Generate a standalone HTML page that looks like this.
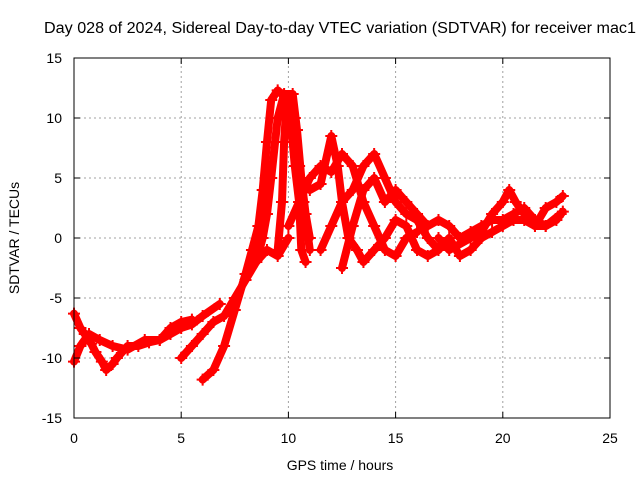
<!DOCTYPE html>
<html><head><meta charset="utf-8"><style>
body{margin:0;background:#fff;width:640px;height:480px;overflow:hidden}
text{font-family:"Liberation Sans",sans-serif;fill:#000}
</style></head><body>
<svg id="chart" width="640" height="480" xmlns="http://www.w3.org/2000/svg">
<text x="340" y="33" font-size="15.5" text-anchor="middle" textLength="592" lengthAdjust="spacingAndGlyphs">Day 028 of 2024, Sidereal Day-to-day VTEC variation (SDTVAR) for receiver mac1</text>
<g id="grid"></g>
<g id="series"></g>
<rect x="74" y="58" width="536" height="360" fill="none" stroke="#000" stroke-width="1"/>
<g id="ticks"></g>
<text x="340" y="470" font-size="14" text-anchor="middle">GPS time / hours</text>
<text x="0" y="0" font-size="14" text-anchor="middle" transform="translate(19,238) rotate(-90)">SDTVAR / TECUs</text>
</svg>
<script>
const xTicks=[0,5,10,15,20,25];
const yTicks=[-15,-10,-5,0,5,10,15];
const trackA=[[0,-6.3],[0.3,-7.5],[0.5,-8],[0.8,-8.8],[1,-9.5],[1.3,-10.3],[1.5,-11],[1.8,-10.5],[2,-10],[2.5,-9],[3,-9],[3.5,-8.7],[4,-8.5],[4.5,-8],[5,-7.5],[5.5,-7.2],[6,-6.5],[6.8,-5.5]];
const trackB=[[0,-10.3],[0.3,-9],[0.7,-8],[1.2,-8.5],[1.8,-9],[2.5,-9.3],[3.3,-8.5],[4,-8.5],[4.5,-7.5],[5,-7],[5.5,-6.8]];
const trackC=[[5,-10],[5.5,-9],[6,-8],[6.5,-7],[7,-6.5],[7.5,-5],[8,-3.5],[8.5,-2],[9,-1],[9.5,-1.5],[10,0]];
const trackD=[[6,-11.8],[6.5,-11],[7,-9],[7.5,-6],[8,-3],[8.3,-1],[8.6,1],[8.8,4],[9,8],[9.2,11.5],[9.5,12.3],[10,11.5],[10.3,10],[10.5,6],[10.7,3],[11,-1]];
const trackE=[[8.5,-2],[8.8,0],[9,2],[9.2,5],[9.5,10],[9.8,12],[10.2,12],[10.4,9],[10.6,5],[10.8,2],[11,0]];
const trackF=[[9.5,-1],[9.7,3],[9.8,8],[9.9,11],[10.1,10],[10.3,6],[10.5,3],[10.6,-1],[10.8,-2]];
const trackG=[[10,1],[10.5,3],[11,5],[11.5,6],[12,5.5],[12.5,7],[13,6],[13.5,3],[14,1],[14.5,-1],[15,-1.5],[15.5,0],[16,0.5]];
const trackH=[[11,4],[11.5,4.5],[12,8.5],[12.3,6],[12.5,3],[12.8,0],[13.2,-1],[13.5,-2],[14,-1],[14.5,0],[15,1.5],[15.5,1],[16,-1],[16.5,-1.5],[17,-1]];
const trackI=[[11.5,-1],[12,1],[12.5,3],[13,4],[13.5,6],[14,7],[14.5,5],[15,3],[15.5,2],[16,1.5],[16.5,0],[17,-1],[17.5,0],[18,-1.5],[18.5,-1],[19,0]];
const trackJ=[[12.5,-2.5],[13,1],[13.5,4],[14,5],[14.5,3],[15,4],[15.5,3],[16,2],[16.5,1],[17,1.5],[17.5,1],[18,0],[18.5,0.5],[19,1],[19.5,1.5],[20,1.5],[20.5,2],[21,2.5],[21.5,1.5],[22,1],[22.7,2]];
const trackK=[[17,0],[17.5,-1],[18.5,0],[19,0.5],[19.5,2],[20,3],[20.3,4],[20.6,3],[21,2],[21.5,1],[22,2.5],[22.5,3],[22.8,3.5]];
const trackL=[[19,0],[19.5,0.5],[20,1],[20.5,1.5],[21,1.5],[21.5,1],[22,1],[22.5,1.5],[22.8,2.2]];
const tracks=[trackA,trackB,trackC,trackD,trackE,trackF,trackG,trackH,trackI,trackJ,trackK,trackL];
const NS="http://www.w3.org/2000/svg";
const X0=74,X1=610,Y0=418,Y1=58;
function sx(t){return X0+(t-0)/(25-0)*(X1-X0);}
function sy(v){return Y0-(v+15)/(30)*(Y0-Y1);}
function mk(tag,attrs,parent){const e=document.createElementNS(NS,tag);for(const k in attrs)e.setAttribute(k,attrs[k]);parent.appendChild(e);return e;}
const grid=document.getElementById('grid'),ticks=document.getElementById('ticks'),series=document.getElementById('series');
xTicks.forEach(t=>{
  if(t>0&&t<25){const g=mk('line',{x1:sx(t),x2:sx(t),y1:Y0,y2:Y1,stroke:'#a0a0a0','stroke-dasharray':'2,3'},grid);
  
  }
  const l=mk('text',{x:sx(t),y:443,'font-size':14,'text-anchor':'middle'},ticks);l.textContent=t;
  
  
  mk('line',{x1:sx(t),x2:sx(t),y1:Y0,y2:Y0-6,stroke:'#000'},ticks);
  mk('line',{x1:sx(t),x2:sx(t),y1:Y1,y2:Y1+6,stroke:'#000'},ticks);
});
yTicks.forEach(v=>{
  if(v>-15&&v<15){const g=mk('line',{x1:X0,x2:X1,y1:sy(v),y2:sy(v),stroke:'#a0a0a0','stroke-dasharray':'2,3'},grid);
  
  }
  const l=mk('text',{x:62,y:sy(v)+5,'font-size':14,'text-anchor':'end'},ticks);l.textContent=v;
  
  
  mk('line',{x1:X0,x2:X0+6,y1:sy(v),y2:sy(v),stroke:'#000'},ticks);
  mk('line',{x1:X1,x2:X1-6,y1:sy(v),y2:sy(v),stroke:'#000'},ticks);
});
tracks.forEach((tr,i)=>{
  const d=tr.map((p,j)=>(j?'L':'M')+sx(p[0]).toFixed(1)+','+sy(p[1]).toFixed(1)).join(' ');
  const p=mk('path',{d:d,fill:'none',stroke:'#ff0000','stroke-width':8,'stroke-linejoin':'round','stroke-linecap':'round'},series);
  
  
  tr.forEach(pt=>{
    const x=sx(pt[0]),y=sy(pt[1]);
    const m=mk('path',{d:`M${x-6},${y}H${x+6}M${x},${y-6}V${y+6}`,stroke:'#ff0000','stroke-width':2},series);
    
    
  });
});
</script>
</body></html>
